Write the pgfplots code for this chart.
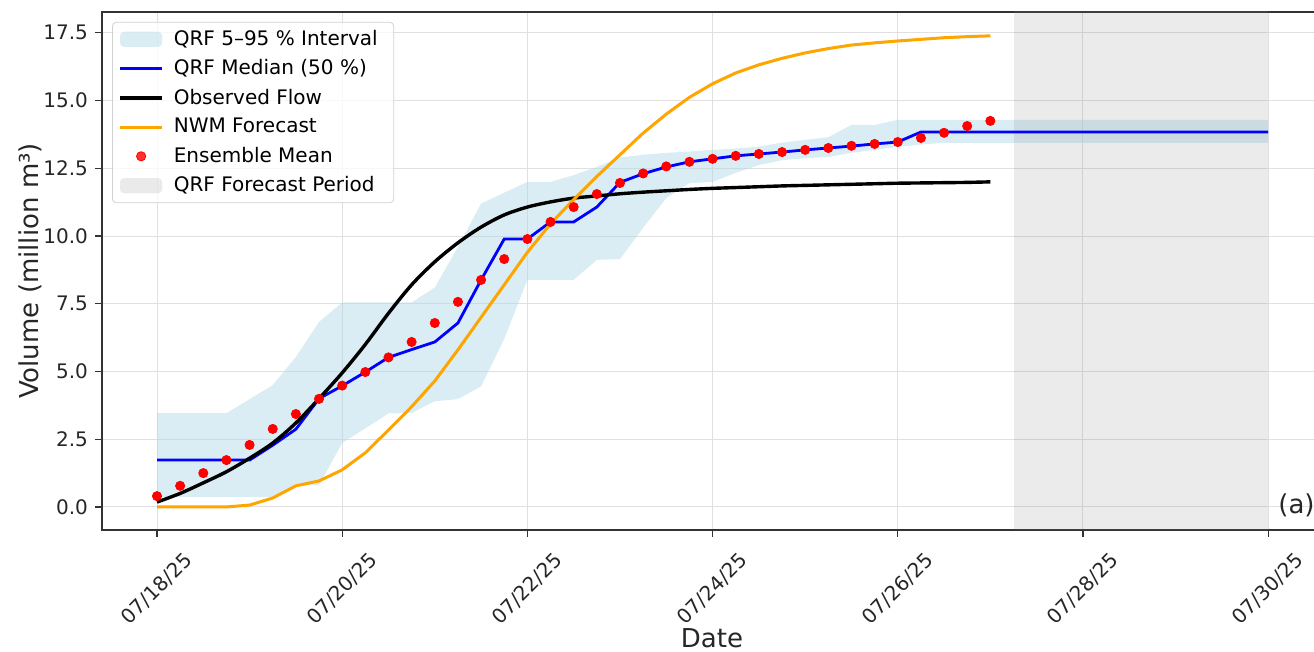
\documentclass[border=0pt]{standalone}
\usepackage{fontspec}
\setmainfont{DejaVu Sans}
\usepackage{pgfplots}
\pgfplotsset{compat=1.18}
\usepackage{pgfplotstable}
\usepgfplotslibrary{fillbetween}

\definecolor{qrfband}{RGB}{173,216,230}
\definecolor{mplorange}{RGB}{255,165,0}
\definecolor{gridc}{RGB}{224,224,224}

\pgfplotstableread{
d mean obs nwm
0 0.40 0.18 0.00
0.25 0.78 0.50 0.00
0.5 1.25 0.89 0.00
0.75 1.73 1.30 0.00
1 2.29 1.80 0.07
1.25 2.88 2.36 0.33
1.5 3.43 3.10 0.78
1.75 3.99 4.00 0.96
2 4.48 4.95 1.37
2.25 4.98 6.00 2.00
2.5 5.52 7.15 2.84
2.75 6.09 8.20 3.70
3 6.79 9.05 4.65
3.25 7.57 9.75 5.80
3.5 8.38 10.33 7.00
3.75 9.15 10.78 8.20
4 9.89 11.07 9.40
4.25 10.52 11.26 10.45
4.5 11.07 11.40 11.35
4.75 11.55 11.48 12.20
5 11.96 11.56 13.00
5.25 12.31 11.62 13.80
5.5 12.57 11.67 14.50
5.75 12.74 11.72 15.12
6 12.85 11.76 15.62
6.25 12.96 11.79 16.02
6.5 13.03 11.82 16.32
6.75 13.10 11.85 16.56
7 13.18 11.87 16.76
7.25 13.25 11.89 16.92
7.5 13.33 11.91 17.05
7.75 13.40 11.93 17.13
8 13.47 11.95 17.20
8.25 13.62 11.96 17.26
8.5 13.81 11.97 17.32
8.75 14.06 11.98 17.36
9 14.25 12.00 17.39
}\maintab

\pgfplotstableread{
d med lo hi
0 1.73 0.37 3.46
0.25 1.73 0.37 3.46
0.5 1.73 0.37 3.46
0.75 1.73 0.37 3.46
1 1.73 0.37 3.98
1.25 2.28 0.37 4.50
1.5 2.87 0.80 5.54
1.75 4.00 0.80 6.83
2 4.47 2.36 7.55
2.25 4.98 2.90 7.55
2.5 5.52 3.45 7.55
2.75 5.81 3.47 7.55
3 6.09 3.90 8.10
3.25 6.79 3.98 9.60
3.5 8.38 4.45 11.20
3.75 9.89 6.20 11.60
4 9.89 8.38 12.00
4.25 10.52 8.38 12.00
4.5 10.52 8.38 12.25
4.75 11.07 9.12 12.55
5 11.98 9.15 12.90
5.25 12.30 10.30 13.00
5.5 12.55 11.40 13.07
5.75 12.74 11.95 13.12
6 12.85 12.00 13.18
6.25 12.96 12.33 13.23
6.5 13.03 12.62 13.30
6.75 13.10 12.80 13.45
7 13.18 12.87 13.55
7.25 13.25 12.92 13.65
7.5 13.32 13.07 14.10
7.75 13.40 13.18 14.10
8 13.47 13.29 14.29
8.25 13.84 13.38 14.29
8.5 13.84 13.44 14.29
8.75 13.84 13.44 14.29
9 13.84 13.44 14.29
12 13.84 13.44 14.29
}\qrftab

\pgfplotsset{
  lineleg/.style={legend image code/.code={\draw[##1, line cap=butt] (0pt,0pt) -- (21pt,0pt);}},
  arealeg/.style={legend image code/.code={\fill[##1] (0pt,-3.8pt) rectangle (21pt,3.8pt);}},
  dotleg/.style={legend image code/.code={\draw[##1] plot coordinates {(10.5pt,0pt)};}},
}

\begin{document}
\begin{tikzpicture}
\begin{axis}[
  scale only axis,
  width=610.85pt, height=259pt,
  xmin=-0.594, xmax=12.6,
  ymin=-0.85, ymax=18.27,
  xtick={0,2,4,6,8,10,12},
  xticklabels={07/18/25,07/20/25,07/22/25,07/24/25,07/26/25,07/28/25,07/30/25},
  ytick={0,2.5,5,7.5,10,12.5,15,17.5},
  yticklabel style={/pgf/number format/.cd, fixed, fixed zerofill, precision=1, assume math mode=true},
  tick label style={font=\fontsize{10}{12}\selectfont, text=black!85},
  xticklabel style={yshift=-26pt, rotate=45, anchor=center},
  tick align=outside, tick pos=left,
  major tick length=3.5pt,
  every tick/.style={black!80, line width=0.6pt},
  axis line style={black!80, line width=0.6pt},
  grid=major,
  major grid style={gridc, line width=0.5pt},
  xlabel={Date},
  ylabel={Volume (million m³)},
  every axis x label/.style={at={(axis description cs:0.4993,-0.2085)}, anchor=center,
     font=\fontsize{13}{15}\selectfont, text=black!85},
  every axis y label/.style={at={(axis description cs:-0.0589,0.5)}, rotate=90, anchor=center,
     font=\fontsize{13}{15}\selectfont, text=black!85},
  legend style={
    at={(rel axis cs:0.0082,0.981)}, anchor=north west,
    font=\fontsize{10}{12}\selectfont,
    draw=black!18, rounded corners=2pt,
    fill=white, fill opacity=0.8, text opacity=1,
    inner xsep=3pt, inner ysep=2.5pt,
    row sep=2.6pt,
    nodes={inner xsep=5pt, inner ysep=1.5pt},
  },
  legend cell align=left,
]

% forecast period background
\addplot[fill=gray, fill opacity=0.16, draw=none, forget plot]
  coordinates {(9.25,-2) (12,-2) (12,20) (9.25,20)} -- cycle;

% band
\addplot[name path=lo, draw=none, forget plot] table[x=d, y=lo] {\qrftab};
\addplot[name path=hi, draw=none, forget plot] table[x=d, y=hi] {\qrftab};
\addplot[fill=qrfband, fill opacity=0.45, draw=none, arealeg] fill between[of=lo and hi];
\addlegendentry{QRF 5–95 \% Interval}

\addplot[blue, line width=1.4pt, lineleg] table[x=d, y=med] {\qrftab};
\addlegendentry{QRF Median (50 \%)}

\addplot[black, line width=1.7pt, lineleg, smooth] table[x=d, y=obs] {\maintab};
\addlegendentry{Observed Flow}

\addplot[mplorange, line width=1.5pt, lineleg] table[x=d, y=nwm] {\maintab};
\addlegendentry{NWM Forecast}

\addplot[only marks, mark=*, mark size=2.3pt, red, draw=red, dotleg] table[x=d, y=mean] {\maintab};
\addlegendentry{Ensemble Mean}

\addlegendimage{arealeg, fill=gray, fill opacity=0.16, draw=none}
\addlegendentry{QRF Forecast Period}

\node[anchor=west, inner sep=0pt, font=\fontsize{13}{15}\selectfont, text=black!85] at (rel axis cs:0.9626,0.048) {(a)};
\end{axis}
\pgfresetboundingbox
\path ([xshift=-51pt,yshift=-61pt]current axis.south west) rectangle ([xshift=606pt,yshift=265pt]current axis.south west);
\end{tikzpicture}
\end{document}
